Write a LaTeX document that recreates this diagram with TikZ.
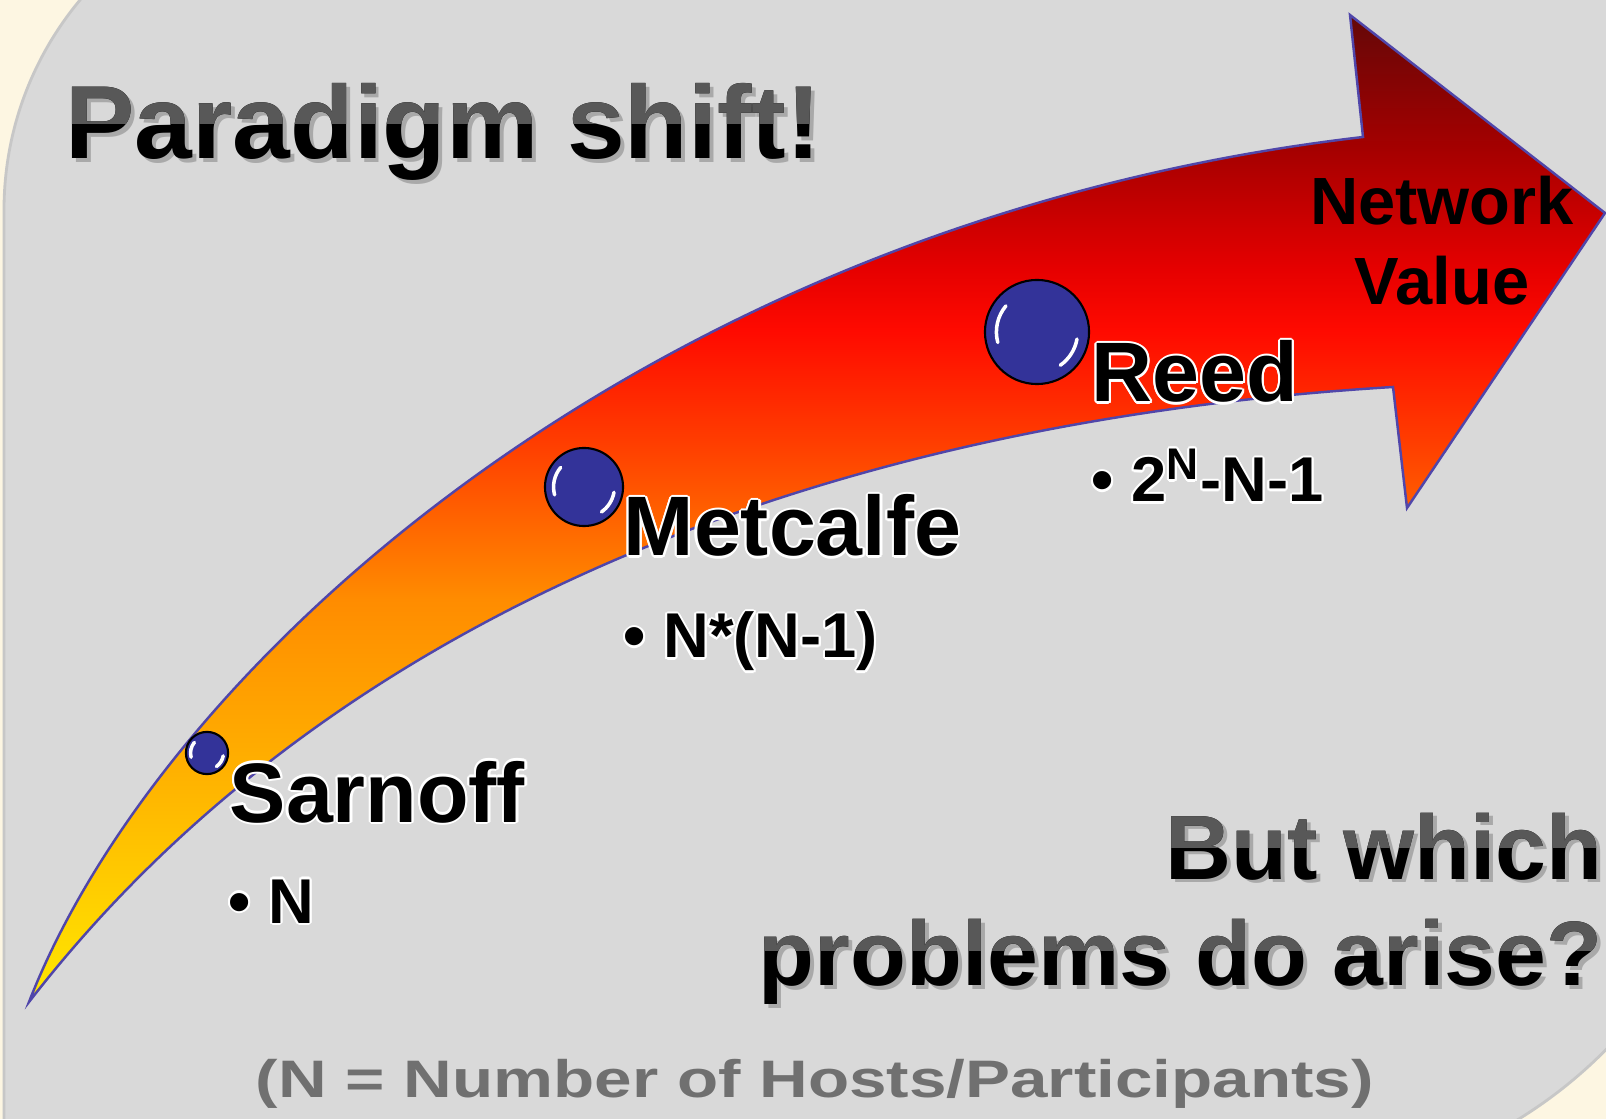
\documentclass[tikz,border=0pt]{standalone}
\usepackage{fontspec}
\setmainfont{Liberation Sans}
\usepackage{xcolor}
\usepackage{contour}
\usepackage{tikz}
\usetikzlibrary{positioning}

\contourlength{0.6pt}

\definecolor{slidegray}{RGB}{217,217,217}
\definecolor{cream}{RGB}{253,246,226}
\definecolor{ballblue}{RGB}{51,51,153}
\definecolor{rimblue}{RGB}{80,70,170}
\definecolor{titlegray}{RGB}{88,88,88}
\definecolor{footgray}{RGB}{112,112,112}

\definecolor{g0}{RGB}{255,232,0}
\definecolor{g1}{RGB}{255,172,0}
\definecolor{g2}{RGB}{255,140,0}
\definecolor{g3}{RGB}{255,60,0}
\definecolor{g4}{RGB}{255,10,0}
\definecolor{g5}{RGB}{230,0,0}
\definecolor{g6}{RGB}{165,0,0}
\definecolor{g7}{RGB}{100,8,8}

\pgfdeclareverticalshading{netgrad}{100bp}{%
  color(0bp)=(g0); color(25bp)=(g0); color(37.8bp)=(g1); color(45.4bp)=(g2);
  color(53.5bp)=(g3); color(59bp)=(g4); color(62.1bp)=(g5); color(68.2bp)=(g6);
  color(75bp)=(g7); color(100bp)=(g7)}

% blue marble with two white glints
\newcommand\blob[3]{%
  \node[ball, minimum size=2*#3] (#2) at (#1) {};
  \draw[gleam] ([shift={(195:0.78*#3)}]#2.center) arc[start angle=195, end angle=140, radius=0.78*#3];
  \draw[gleam] ([shift={(-10:0.78*#3)}]#2.center) arc[start angle=-10, end angle=-55, radius=0.78*#3];
}

% heading text: grey upper half, black lower half, soft shadow
\newcommand\twotone[5]{%
  \node[#1, opacity=.22] (#2 shadow) at ([shift={(4,4)}]#3) {#4};
  \node[#1] (#2) at (#3) {#4};
  \begin{scope}
    \clip (#2.north west) rectangle ([yshift=#5]#2.base east);
    \node[#1, text=titlegray] (#2 top) at (#3) {#4};
  \end{scope}
}

\begin{document}
\begin{tikzpicture}[
  x=0.01cm, y=-0.01cm,
  slide/.style={fill=slidegray, draw=black!22, line width=0.8pt},
  sweep/.style={shade, shading=netgrad, draw=rimblue, line width=0.7pt},
  ball/.style={circle, fill=ballblue, draw=black, line width=0.6pt, inner sep=0pt},
  gleam/.style={white, line width=1pt, line cap=round},
  who/.style={font=\fontsize{24}{28}\selectfont\bfseries, inner sep=0pt, anchor=base west},
  formula/.style={font=\fontsize{18}{22}\selectfont\bfseries, inner sep=0pt, anchor=base west},
  headline/.style={font=\fontsize{29.5}{34}\selectfont\bfseries, inner sep=0pt, anchor=base west},
  question/.style={font=\fontsize{26}{30}\selectfont\bfseries, inner sep=0pt, anchor=base east},
  valuelbl/.style={font=\fontsize{19}{23}\selectfont\bfseries, inner sep=0pt, anchor=base},
  legendline/.style={font=\fontsize{15}{18}\selectfont\bfseries, text=footgray, inner sep=0pt, anchor=base west},
]
\useasboundingbox (0,0) rectangle (1606,1119);

% slide background with two rounded corners
\fill[cream] (0,0) rectangle (1606,1119);
\begin{scope}
  \clip (0,0) rectangle (1606,1119);
  \path[slide] (4,1200) -- (4,210) arc[start angle=180, end angle=270, radius=328]
    -- (1740,-118) -- (1740,723) arc[start angle=0, end angle=90, radius=465]
    -- (4,1188) -- cycle;
\end{scope}

% the curved growth arrow
\path[sweep] (29,1002) .. controls (160,665) and (650,220) .. (1363,137)
  -- (1350,15) -- (1605,213) -- (1407,508) -- (1393,387)
  .. controls (850,420) and (340,600) .. (29,1002) -- cycle;

% marbles along the arrow
\blob{207,753}{sarnoff ball}{6pt}
\blob{584,487}{metcalfe ball}{11.1pt}
\blob{1037,332}{reed ball}{14.8pt}

% laws
\node[who] (sarnoff) at (229,822) {\contour{white}{Sarnoff}};
\node[formula] (sarnoff law) at (228,923) {\contour{white}{\textbullet\ N}};
\node[who] (metcalfe) at (623,556) {\contour{white}{Metcalfe}};
\node[formula] (metcalfe law) at (623,658) {\contour{white}{\textbullet\ N*(N-1)}};
\node[who] (reed) at (1091,402) {\contour{white}{Reed}};
\node[formula] (reed law) at (1091,502) {\contour{white}{\textbullet\ 2\textsuperscript{N}-N-1}};

\node[valuelbl] (network) at (1442,225) {Network};
\node[valuelbl] (value) at (1442,305) {Value};

% headings
\twotone{headline}{paradigm}{65,159}{Paradigm shift!}{10.2pt}
\twotone{question}{but which}{1603,879}{But which}{9pt}
\twotone{question}{problems}{1603,985}{problems do arise?}{9.7pt}

\node[legendline] (hosts) at (255,1097) {\scalebox{1.278}[1]{(N = Number of Hosts/Participants)}};

\end{tikzpicture}
\end{document}
